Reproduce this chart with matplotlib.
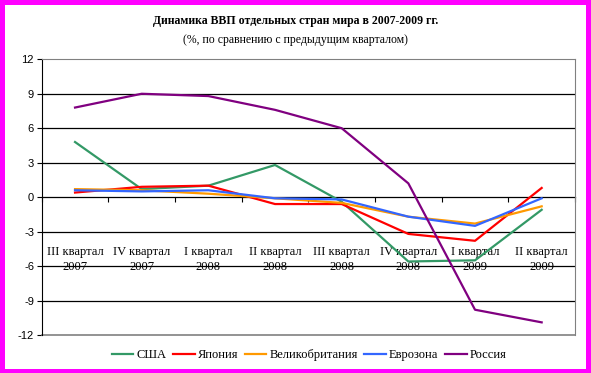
import numpy as np
import matplotlib
matplotlib.use('Agg')
import matplotlib.pyplot as plt
from matplotlib.patches import Rectangle

quarters = ['III квартал\n2007', 'IV квартал\n2007', 'I квартал\n2008', 'II квартал\n2008',
            'III квартал\n2008', 'IV квартал\n2008', 'I квартал\n2009', 'II квартал\n2009']
usa = [4.8, 0.7, 1.0, 2.8, -0.4, -5.6, -5.5, -1.1]
japan = [0.4, 0.9, 1.0, -0.6, -0.6, -3.2, -3.8, 0.8]
uk = [0.7, 0.6, 0.3, -0.1, -0.5, -1.7, -2.3, -0.8]
euro = [0.6, 0.5, 0.6, -0.1, -0.2, -1.7, -2.5, -0.1]
russia = [7.8, 9.0, 8.8, 7.6, 6.0, 1.2, -9.8, -10.9]

names = ['США', 'Япония', 'Великобритания', 'Еврозона', 'Россия']
colors = ['#339966', '#ff0000', '#ff9900', '#3366ff', '#800080']
series = [usa, japan, uk, euro, russia]

serif = 'Liberation Serif'
sans = 'Liberation Sans'
plt.rcParams['axes.unicode_minus'] = False

fig = plt.figure(figsize=(5.91, 3.73), dpi=100, facecolor='#ff00ff')
# white chart area inside the magenta frame
fig.patches.append(Rectangle((5 / 591, 4 / 373), 581 / 591, 364 / 373,
                             transform=fig.transFigure, facecolor='white',
                             edgecolor='none', zorder=-10))

ax = fig.add_axes([41.7 / 591, 1 - 335 / 373, 533.3 / 591, 275.7 / 373])
ax.set_facecolor('white')

x = np.arange(len(quarters))
for vals, name, c in zip(series, names, colors):
    ax.plot(x, vals, color=c, lw=1.6, label=name, zorder=3)

ax.set_xlim(-0.5, len(quarters) - 0.5)
ax.set_ylim(-12, 12)
ax.set_yticks(np.arange(-12, 13, 3))
ax.tick_params(axis='y', direction='out', length=3.5, width=0.8, pad=2)
for lab in ax.get_yticklabels():
    lab.set_fontfamily(sans)
    lab.set_fontsize(8)

for v in [-9, -6, -3, 3, 9, 6]:
    ax.axhline(v, color='black', lw=0.9, zorder=1)

# category axis crosses at zero
ax.spines['bottom'].set_position(('data', 0))
ax.spines['bottom'].set_color('black')
ax.spines['bottom'].set_linewidth(0.9)
ax.spines['bottom'].set_zorder(2)
ax.set_xticks(np.arange(len(quarters) + 1) - 0.5)
ax.set_xticklabels([])
ax.tick_params(axis='x', which='major', direction='out', length=3.5, width=0.8)
ax.set_xticks(x, minor=True)
ax.set_xticklabels(quarters, minor=True, fontfamily=serif, fontsize=9, linespacing=1.4)
ax.tick_params(axis='x', which='minor', length=0, pad=35)

ax.spines['left'].set_color('black')
for s in ['top', 'right']:
    ax.spines[s].set_color('#808080')
ax.plot([0, 1], [0, 0], transform=ax.transAxes, color='#808080', lw=1.2, clip_on=False, zorder=2)

fig.text(0.5, 1 - 21 / 373, 'Динамика ВВП отдельных стран мира в 2007-2009 гг.',
         ha='center', va='center', fontfamily=serif, fontsize=8.5, fontweight='bold')
fig.text(0.5, 1 - 40 / 373, '(%, по сравнению с предыдущим кварталом)',
         ha='center', va='center', fontfamily=serif, fontsize=8.5)

fig.legend(loc='center', bbox_to_anchor=(0.523, 1 - 355 / 373), ncol=5, frameon=False,
           prop={'family': serif, 'size': 9}, handlelength=1.75, handletextpad=0.25,
           columnspacing=0.5)

fig.savefig('out.png', dpi=100, facecolor=fig.get_facecolor())
